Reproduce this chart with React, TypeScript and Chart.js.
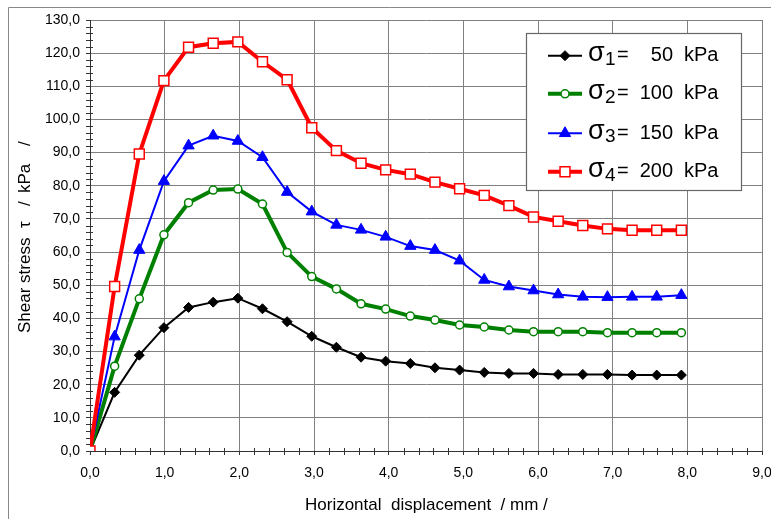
import React, { useEffect, useRef } from 'react';
import { Chart, registerables } from 'chart.js';

Chart.register(...registerables);

// ---- data ----
const displacement = [0, 0.33, 0.66, 0.99, 1.32, 1.65, 1.98, 2.31, 2.64, 2.97, 3.3, 3.63, 3.96, 4.29, 4.62, 4.95, 5.28, 5.61, 5.94, 6.27, 6.6, 6.93, 7.26, 7.59, 7.92];
const sigma1 = [0, 17.7, 28.9, 37.2, 43.3, 44.9, 46.1, 42.9, 39.0, 34.6, 31.3, 28.3, 27.1, 26.4, 25.1, 24.4, 23.7, 23.4, 23.4, 23.1, 23.1, 23.1, 22.9, 22.9, 22.9];
const sigma2 = [0, 25.6, 45.9, 65.2, 74.9, 78.7, 79.0, 74.5, 59.9, 52.6, 48.9, 44.4, 42.8, 40.7, 39.5, 38.0, 37.4, 36.5, 36.0, 36.0, 36.0, 35.7, 35.7, 35.7, 35.7];
const sigma3 = [0, 34.5, 60.6, 81.4, 92.1, 95.1, 93.5, 88.6, 78.1, 72.2, 68.2, 66.7, 64.6, 61.8, 60.6, 57.4, 51.6, 49.6, 48.4, 47.2, 46.5, 46.4, 46.5, 46.5, 47.0];
const sigma4 = [0, 49.6, 89.6, 111.7, 121.8, 123.0, 123.4, 117.4, 112.0, 97.5, 90.6, 86.8, 84.8, 83.5, 81.1, 79.1, 77.1, 74.0, 70.6, 69.3, 68.0, 67.0, 66.6, 66.6, 66.6];
const seriesSubscripts = ['1', '2', '3', '4'];
const seriesPressures = ['50', '100', '150', '200'];
const pressureUnit = 'kPa';
const xTitle = 'Horizontal  displacement  / mm /';
// y title split into words as they are spaced in the original
const yTitleParts = ['Shear stress', '\u03c4', '/', 'kPa', '/'];

const FONT = '"Liberation Sans", Arial, sans-serif';

const fmt = (v: number | string) => Number(v).toFixed(1).replace('.', ',');

type Style = { color: string; width: number; point: string; radius: number; fill: string; pbw: number };
const styles: Style[] = [
  { color: '#000000', width: 2, point: 'rectRot', radius: 5, fill: '#000000', pbw: 1 },
  { color: '#008000', width: 4, point: 'circle', radius: 4, fill: '#ffffff', pbw: 1.5 },
  { color: '#0000ff', width: 2, point: 'triangle', radius: 6.5, fill: '#0000ff', pbw: 1 },
  { color: '#ff0000', width: 4, point: 'rect', radius: 7, fill: '#ffffff', pbw: 1.5 },
];

// layout positions of y title pieces (pixels, start of each piece)
const yTitleY = [333, 228, 206, 193, 146];

function drawMarker(ctx: CanvasRenderingContext2D, s: Style, x: number, y: number) {
  const r = s.radius;
  ctx.beginPath();
  if (s.point === 'rectRot') {
    ctx.moveTo(x, y - r); ctx.lineTo(x + r, y); ctx.lineTo(x, y + r); ctx.lineTo(x - r, y); ctx.closePath();
  } else if (s.point === 'circle') {
    ctx.arc(x, y, r, 0, Math.PI * 2);
  } else if (s.point === 'triangle') {
    const c = Math.cos(Math.PI / 6) * r;
    ctx.moveTo(x, y - r); ctx.lineTo(x + c, y + r / 2); ctx.lineTo(x - c, y + r / 2); ctx.closePath();
  } else {
    const h = r * Math.SQRT1_2;
    ctx.rect(x - h, y - h, 2 * h, 2 * h);
  }
  ctx.fillStyle = s.fill;
  ctx.fill();
  ctx.lineWidth = s.pbw;
  ctx.strokeStyle = s.color;
  ctx.stroke();
}

const decor = {
  id: 'decor',
  beforeDraw(chart: any) {
    const ctx = chart.ctx as CanvasRenderingContext2D;
    ctx.save();
    ctx.fillStyle = '#ffffff';
    ctx.fillRect(0, 0, chart.width, chart.height);
    ctx.strokeStyle = '#888888';
    ctx.lineWidth = 1;
    ctx.beginPath();
    ctx.moveTo(8.5, chart.height);
    ctx.lineTo(8.5, 7.5);
    ctx.lineTo(chart.width, 7.5);
    ctx.stroke();
    ctx.restore();
  },
  beforeDatasetsDraw(chart: any) {
    const ctx = chart.ctx as CanvasRenderingContext2D;
    const xs = chart.scales.x;
    const ys = chart.scales.y;
    const area = chart.chartArea;
    ctx.save();
    ctx.strokeStyle = '#333333';
    ctx.lineWidth = 1;
    ctx.beginPath();
    for (let i = 1; i < 45; i++) {
      if (i % 5 === 0) continue;
      const px = Math.round(xs.getPixelForValue(i * 0.2)) + 0.5;
      ctx.moveTo(px, area.bottom - 3);
      ctx.lineTo(px, area.bottom + 4);
    }
    for (let i = 1; i < 65; i++) {
      if (i % 5 === 0) continue;
      const py = Math.round(ys.getPixelForValue(i * 2)) + 0.5;
      ctx.moveTo(area.left - 4, py);
      ctx.lineTo(area.left + 3, py);
    }
    ctx.stroke();
    ctx.restore();
  },
  afterDraw(chart: any) {
    const ctx = chart.ctx as CanvasRenderingContext2D;
    ctx.save();
    // axis titles
    ctx.fillStyle = '#000000';
    ctx.textAlign = 'left';
    ctx.textBaseline = 'alphabetic';
    ctx.font = `17px ${FONT}`;
    ctx.fillText(xTitle, 305, 510);
    ctx.save();
    ctx.translate(30, 0);
    ctx.rotate(-Math.PI / 2);
    yTitleParts.forEach((t, i) => ctx.fillText(t, -yTitleY[i], 0));
    ctx.restore();

    // legend
    const bx = 526.5, by = 33.5, bw = 215, bh = 157;
    ctx.fillStyle = '#ffffff';
    ctx.fillRect(bx, by, bw, bh);
    ctx.strokeStyle = '#666666';
    ctx.lineWidth = 1.2;
    ctx.strokeRect(bx, by, bw, bh);
    const rows = [55.7, 93.8, 133.3, 171.7];
    for (let i = 0; i < 4; i++) {
      const s = styles[i];
      const cy = rows[i];
      ctx.strokeStyle = s.color;
      ctx.lineWidth = s.width;
      ctx.beginPath();
      ctx.moveTo(548, cy);
      ctx.lineTo(582, cy);
      ctx.stroke();
      drawMarker(ctx, s, 565, cy);
      ctx.fillStyle = '#000000';
      ctx.textAlign = 'left';
      ctx.textBaseline = 'alphabetic';
      const base = cy + 5.5;
      ctx.font = `27px ${FONT}`;
      ctx.fillText('\u03c3', 588, base);
      ctx.font = `19px ${FONT}`;
      ctx.fillText(seriesSubscripts[i], 605, base + 3.5);
      ctx.font = `20px ${FONT}`;
      ctx.fillText('=', 617, base);
      ctx.textAlign = 'right';
      ctx.fillText(seriesPressures[i], 673, base);
      ctx.textAlign = 'left';
      ctx.fillText(pressureUnit, 684, base);
    }
    ctx.restore();
  },
};

export default function App() {
  const ref = useRef<HTMLCanvasElement | null>(null);
  useEffect(() => {
    document.body.style.margin = '0';
    const series = [sigma1, sigma2, sigma3, sigma4];
    const datasets = series.map((vals, i) => {
      const s = styles[i];
      return {
        label: `\u03c3${seriesSubscripts[i]}= ${seriesPressures[i]} ${pressureUnit}`,
        data: displacement.map((x, j) => ({ x, y: vals[j] })),
        borderColor: s.color,
        backgroundColor: s.color,
        borderWidth: s.width,
        pointStyle: s.point,
        pointRadius: s.radius,
        pointBackgroundColor: s.fill,
        pointBorderColor: s.color,
        pointBorderWidth: s.pbw,
        tension: 0,
        order: 4 - i,
      };
    });
    const tickFont = { family: FONT, size: 14 };
    const chart = new Chart(ref.current as HTMLCanvasElement, {
      type: 'line',
      data: { datasets },
      plugins: [decor],
      options: {
        animation: false,
        responsive: false,
        devicePixelRatio: 1,
        layout: { padding: { top: 20, right: 9, left: 0, bottom: 0 } },
        plugins: { legend: { display: false }, tooltip: { enabled: false } },
        scales: {
          x: {
            type: 'linear',
            min: 0,
            max: 9,
            ticks: { stepSize: 1, callback: (v: any) => fmt(v), font: tickFont, color: '#000', padding: 10, maxRotation: 0, autoSkip: false },
            grid: { color: '#808080', tickLength: 4, tickColor: '#333333' },
            border: { color: '#333333', width: 1 },
            afterFit: (s: any) => { s.height = 68; s.paddingLeft = 0; s.paddingRight = 0; },
          },
          y: {
            type: 'linear',
            min: 0,
            max: 130,
            ticks: { stepSize: 10, callback: (v: any) => fmt(v), font: tickFont, color: '#000', padding: 6 },
            grid: { color: '#808080', tickLength: 4, tickColor: '#333333' },
            border: { color: '#333333', width: 1 },
            afterFit: (s: any) => { s.width = 90; s.paddingTop = 0; s.paddingBottom = 0; },
          },
        },
      } as any,
    });
    return () => chart.destroy();
  }, []);
  return (
    <div style={{ width: 771, height: 519 }}>
      <canvas ref={ref} width={771} height={519} style={{ display: 'block' }} />
    </div>
  );
}
